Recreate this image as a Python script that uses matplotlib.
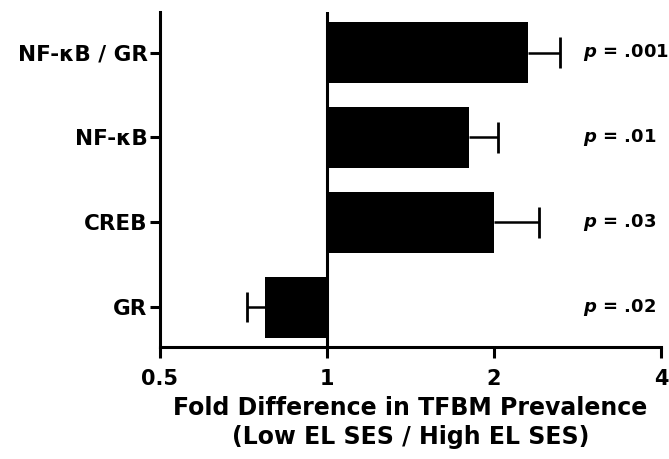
import matplotlib
matplotlib.use("Agg")
import matplotlib.pyplot as plt

plt.rcParams['font.family'] = ['DejaVu Sans']
plt.rcParams['mathtext.fontset'] = 'custom'
plt.rcParams['mathtext.it'] = 'DejaVu Sans:italic:bold'

labels = ["NF-κB / GR", "NF-κB", "CREB", "GR"]
fold = [2.30, 1.80, 2.00, 0.773]
err_low = [0.0, 0.0, 0.0, 0.056]
err_high = [0.33, 0.23, 0.41, 0.0]
pvals = [".001", ".01", ".03", ".02"]

fig = plt.figure(figsize=(6.69, 4.59), dpi=100)
ax = fig.add_axes([0.239, 0.244, 0.749, 0.730])

ypos = list(range(len(labels)))
widths = [f - 1 for f in fold]
ax.barh(ypos, widths, left=1, height=0.72, color='black', zorder=2)

# one-sided error bars (pointing away from 1)
ends = [f + h - l for f, l, h in zip(fold, err_low, err_high)]
ax.hlines(ypos, fold, ends, color='black', lw=1.8, zorder=1)
ax.vlines(ends, [y - 0.18 for y in ypos], [y + 0.18 for y in ypos],
          color='black', lw=2.0, zorder=1)
ax.axvline(1, color='black', lw=2.2, zorder=3)

ax.set_xscale('log', base=2)
ax.set_xlim(0.5, 4)
ax.set_ylim(3.47, -0.48)
ax.set_xticks([0.5, 1, 2, 4])
ax.set_xticklabels(["0.5", "1", "2", "4"])
ax.minorticks_off()
ax.set_yticks(ypos)
ax.set_yticklabels(labels)

for s in ['top', 'right']:
    ax.spines[s].set_visible(False)
for s in ['left', 'bottom']:
    ax.spines[s].set_linewidth(2.2)
ax.tick_params(axis='x', length=8, width=2.2, labelsize=15, pad=8)
ax.tick_params(axis='y', length=7, width=2.2, labelsize=15.5, pad=2)
for t in ax.get_xticklabels() + ax.get_yticklabels():
    t.set_fontweight('bold')

for y, p in zip(ypos, pvals):
    ax.text(0.845, y, r"$p$ = " + p, transform=ax.get_yaxis_transform(),
            fontsize=13, fontweight='bold', va='center', ha='left', clip_on=False)

ax.set_xlabel("Fold Difference in TFBM Prevalence\n(Low EL SES / High EL SES)",
              fontsize=17, fontweight='bold', linespacing=1.3)
ax.xaxis.set_label_coords(0.5, -0.145)

fig.savefig("out.png", dpi=100)
